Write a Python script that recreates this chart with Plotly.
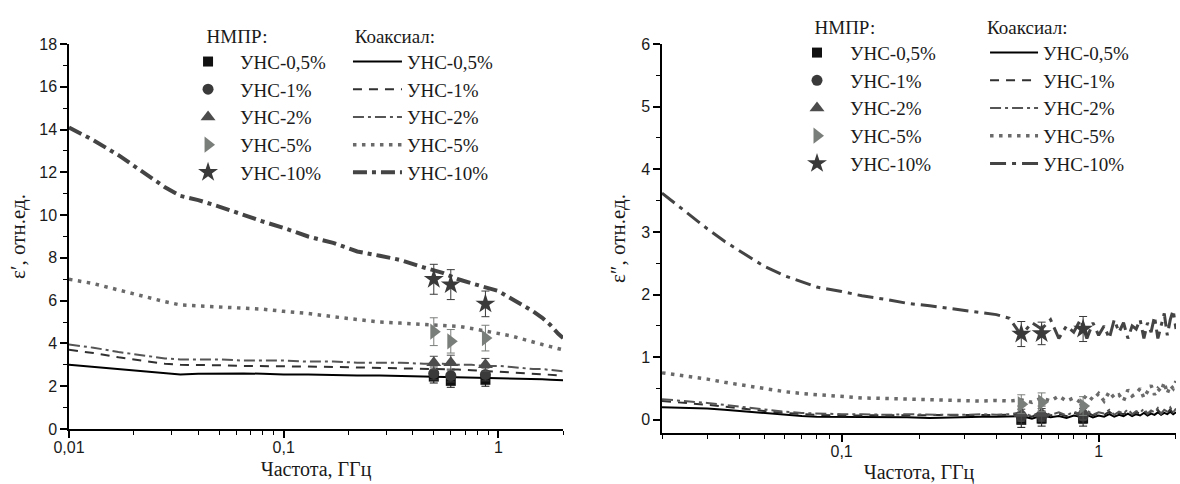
import plotly.graph_objects as go

# ---------------- data ----------------
labels = ["УНС-0,5%", "УНС-1%", "УНС-2%", "УНС-5%", "УНС-10%"]

# coaxial, eps' (left)
freq_coax1 = [0.01, 0.013, 0.017, 0.022, 0.028, 0.033, 0.04, 0.05, 0.065, 0.08, 0.1, 0.13, 0.17, 0.22,
              0.28, 0.35, 0.45, 0.55, 0.65, 0.75, 0.85, 1.0, 1.15, 1.3, 1.45, 1.6, 1.75, 1.9, 2.0]
eps1_05 = [3.0, 2.9, 2.8, 2.7, 2.6, 2.55, 2.58, 2.6, 2.6, 2.58, 2.55, 2.55, 2.52, 2.5, 2.5, 2.48, 2.45,
           2.45, 2.42, 2.4, 2.4, 2.38, 2.36, 2.35, 2.33, 2.32, 2.3, 2.3, 2.28]
eps1_1 = [3.7, 3.55, 3.35, 3.2, 3.05, 3.0, 3.0, 2.98, 2.95, 2.95, 2.95, 2.92, 2.9, 2.88, 2.85, 2.85, 2.82,
          2.8, 2.78, 2.75, 2.72, 2.7, 2.65, 2.62, 2.6, 2.58, 2.55, 2.52, 2.5]
eps1_2 = [3.95, 3.8, 3.6, 3.45, 3.3, 3.25, 3.25, 3.25, 3.2, 3.2, 3.2, 3.15, 3.15, 3.1, 3.1, 3.1, 3.05,
          3.05, 3.0, 3.0, 2.95, 2.95, 2.9, 2.85, 2.8, 2.8, 2.75, 2.7, 2.7]
eps1_5 = [7.0, 6.8, 6.5, 6.2, 5.95, 5.8, 5.75, 5.7, 5.65, 5.6, 5.5, 5.4, 5.25, 5.1, 5.0, 4.95, 4.9,
          4.85, 4.8, 4.7, 4.6, 4.5, 4.35, 4.2, 4.05, 3.95, 3.85, 3.75, 3.7]
eps1_10 = [14.1, 13.5, 12.8, 12.0, 11.3, 10.9, 10.7, 10.4, 10.0, 9.7, 9.4, 9.0, 8.7, 8.3, 8.1, 7.9, 7.55,
           7.3, 7.0, 6.8, 6.65, 6.45, 6.1, 5.8, 5.5, 5.2, 4.85, 4.45, 4.25]

# coaxial, eps'' (right)
freq_coax2 = [0.02, 0.025, 0.03, 0.035, 0.04, 0.05, 0.06, 0.07, 0.08, 0.1, 0.12, 0.15, 0.18, 0.22, 0.26,
              0.3, 0.35, 0.4, 0.45, 0.5, 0.55, 0.6, 0.65, 0.7, 0.75, 0.8, 0.85, 0.9, 0.95, 1.0, 1.05,
              1.1, 1.15, 1.2, 1.25, 1.3, 1.35, 1.4, 1.45, 1.5, 1.55, 1.6, 1.65, 1.7, 1.75, 1.8, 1.85,
              1.9, 1.95, 2.0]
eps2_05 = [0.2, 0.19, 0.18, 0.16, 0.14, 0.11, 0.08, 0.06, 0.05, 0.05, 0.05, 0.04, 0.04, 0.03, 0.04, 0.04,
           0.05, 0.05, 0.05, 0.06, 0.02, 0.07, 0.04, 0.06, 0.03, 0.07, 0.05, 0.08, 0.04, 0.07, 0.05,
           0.09, 0.05, 0.08, 0.06, 0.1, 0.06, 0.09, 0.07, 0.11, 0.07, 0.1, 0.08, 0.12, 0.08, 0.11, 0.09,
           0.13, 0.09, 0.12]
eps2_1 = [0.3, 0.27, 0.24, 0.21, 0.18, 0.14, 0.11, 0.09, 0.08, 0.07, 0.07, 0.07, 0.07, 0.07, 0.07, 0.07,
          0.07, 0.07, 0.08, 0.1, 0.05, 0.12, 0.07, 0.1, 0.06, 0.11, 0.08, 0.12, 0.07, 0.1, 0.08, 0.13,
          0.07, 0.11, 0.09, 0.14, 0.08, 0.12, 0.1, 0.15, 0.09, 0.13, 0.1, 0.16, 0.09, 0.14, 0.11, 0.17,
          0.1, 0.15]
eps2_2 = [0.33, 0.3, 0.27, 0.24, 0.21, 0.17, 0.13, 0.11, 0.1, 0.09, 0.09, 0.08, 0.09, 0.08, 0.08, 0.08,
          0.09, 0.08, 0.09, 0.12, 0.06, 0.14, 0.08, 0.12, 0.07, 0.13, 0.09, 0.15, 0.08, 0.12, 0.1, 0.16,
          0.08, 0.13, 0.1, 0.17, 0.09, 0.14, 0.11, 0.18, 0.1, 0.15, 0.12, 0.19, 0.1, 0.16, 0.13, 0.2,
          0.12, 0.18]
eps2_5 = [0.75, 0.7, 0.65, 0.6, 0.56, 0.5, 0.45, 0.42, 0.4, 0.37, 0.35, 0.34, 0.33, 0.33, 0.32, 0.3,
          0.3, 0.31, 0.3, 0.32, 0.28, 0.35, 0.3, 0.38, 0.3, 0.35, 0.28, 0.4, 0.32, 0.42, 0.3, 0.45,
          0.35, 0.4, 0.3, 0.48, 0.38, 0.42, 0.5, 0.35, 0.45, 0.55, 0.4, 0.5, 0.45, 0.6, 0.42, 0.55,
          0.5, 0.62]
eps2_10 = [3.62, 3.3, 3.05, 2.85, 2.7, 2.45, 2.3, 2.2, 2.12, 2.05, 1.98, 1.92, 1.86, 1.82, 1.78, 1.75,
           1.72, 1.68, 1.62, 1.35, 1.55, 1.45, 1.6, 1.3, 1.5, 1.4, 1.6, 1.3, 1.55, 1.35, 1.5, 1.3,
           1.6, 1.4, 1.55, 1.3, 1.5, 1.45, 1.6, 1.3, 1.55, 1.4, 1.65, 1.3, 1.5, 1.7, 1.35, 1.6, 1.75,
           1.45]

# NMPR (resonator) points
freq_nmpr = [0.5, 0.6, 0.87]
nmpr1 = [[2.45, 2.25, 2.3], [2.6, 2.5, 2.55], [3.1, 3.1, 3.0], [4.55, 4.1, 4.25], [7.0, 6.75, 5.85]]
nmpr1_err = [[0.3, 0.3, 0.3], [0.3, 0.3, 0.3], [0.3, 0.35, 0.3], [0.65, 0.55, 0.6], [0.7, 0.7, 0.6]]
nmpr2 = [[0.0, 0.02, 0.02], [0.05, 0.06, 0.06], [0.1, 0.1, 0.12], [0.25, 0.28, 0.22], [1.37, 1.38, 1.45]]
nmpr2_err = [[0.12, 0.12, 0.12], [0.12, 0.12, 0.12], [0.12, 0.12, 0.12], [0.15, 0.15, 0.15], [0.2, 0.18, 0.2]]

# ---------------- styles ----------------
marker_symbols = ["square", "circle", "triangle-up", "triangle-right", "star"]
marker_sizes = [10, 11, 13, 14, 15]
marker_colors = ["#111111", "#3a3a3a", "#4c4c4c", "#7a7e7a", "#3a3a3a"]
line_colors = ["#000000", "#303030", "#555555", "#6a6a6a", "#444444"]
line_dash_left = ["solid", "9px,7px", "11px,4px,3px,4px", "3.5px,5.5px", "14px,5px,4px,5px"]
line_dash_right = ["solid", "9px,7px", "11px,4px,3px,4px", "3.5px,5.5px", "16px,6px,4px,6px"]
line_widths_left = [2, 2, 2, 3.5, 4]
line_widths_right = [2, 2, 2, 3.5, 3]

coax1 = [eps1_05, eps1_1, eps1_2, eps1_5, eps1_10]
coax2 = [eps2_05, eps2_1, eps2_2, eps2_5, eps2_10]

fig = go.Figure()

serif = "Times New Roman, Liberation Serif, DejaVu Serif, serif"
sans = "Arial, Liberation Sans, sans-serif"
txt = "#1a1a1a"
nb = "\u00a0"

for i in range(5):
    fig.add_trace(go.Scatter(x=freq_coax1, y=coax1[i], mode="lines", name=labels[i],
                             line=dict(color=line_colors[i], width=line_widths_left[i], dash=line_dash_left[i]),
                             xaxis="x", yaxis="y", legend="legend2"))
for i in range(5):
    fig.add_trace(go.Scatter(x=freq_nmpr, y=nmpr1[i], mode="markers", name=labels[i],
                             marker=dict(symbol=marker_symbols[i], size=marker_sizes[i], color=marker_colors[i]),
                             error_y=dict(type="data", array=nmpr1_err[i], color=marker_colors[i], thickness=1, width=4),
                             xaxis="x", yaxis="y", legend="legend"))
for i in range(5):
    fig.add_trace(go.Scatter(x=freq_coax2, y=coax2[i], mode="lines", name=labels[i],
                             line=dict(color=line_colors[i], width=line_widths_right[i], dash=line_dash_right[i]),
                             xaxis="x2", yaxis="y2", legend="legend4"))
for i in range(5):
    fig.add_trace(go.Scatter(x=freq_nmpr, y=nmpr2[i], mode="markers", name=labels[i],
                             marker=dict(symbol=marker_symbols[i], size=marker_sizes[i], color=marker_colors[i]),
                             error_y=dict(type="data", array=nmpr2_err[i], color=marker_colors[i], thickness=1, width=4),
                             xaxis="x2", yaxis="y2", legend="legend3"))

minor_log = [v * m for v in (0.01, 0.1, 1) for m in range(2, 10) if v * m <= 2.0001]

xcommon = dict(type="log", showline=True, linecolor="black", linewidth=1.5, ticks="outside",
               ticklen=7, tickwidth=1.5, tickcolor="black", showgrid=False, zeroline=False,
               automargin=False, ticklabelstandoff=-4,
               tickvals=[0.01, 0.1, 1], ticktext=["0,01", "0,1", "1"],
               minor=dict(tickvals=minor_log, ticks="outside", ticklen=4, tickwidth=1.2, tickcolor="black",
                          showgrid=False),
               tickfont=dict(family=sans, size=16, color=txt),
               title=dict(text="Частота, ГГц", font=dict(family=serif, size=20, color=txt), standoff=7))
ycommon = dict(showline=True, linecolor="black", linewidth=1.5, ticks="outside", ticklen=7, tickwidth=1.5,
               tickcolor="black", showgrid=False, zeroline=False, automargin=False,
               tickfont=dict(family=sans, size=16, color=txt))

fig.update_layout(
    width=1180, height=484,
    margin=dict(l=69, r=4, t=44, b=51, autoexpand=False),
    plot_bgcolor="white", paper_bgcolor="white",
    separators=", ",
    xaxis=dict(domain=[0, 0.4463], range=[-2, 0.30103], anchor="y", **xcommon),
    xaxis2=dict(domain=[0.5357, 1], range=[-1.69897, 0.30103], anchor="y2", **xcommon),
    yaxis=dict(domain=[0.0103, 1], range=[0, 18], dtick=2, anchor="x",
               minor=dict(dtick=1, ticks="outside", ticklen=4, tickwidth=1.2, tickcolor="black", showgrid=False),
               title=dict(text="ε′, отн.ед.", font=dict(family=serif, size=21, color=txt), standoff=8),
               **ycommon),
    yaxis2=dict(domain=[0, 1], range=[-0.21, 6], dtick=1, anchor="x2",
                minor=dict(dtick=0.5, ticks="outside", ticklen=4, tickwidth=1.2, tickcolor="black", showgrid=False),
                title=dict(text="ε″, отн.ед.", font=dict(family=serif, size=21, color=txt), standoff=10),
                **ycommon),
    showlegend=True,
)

def leg(x, y, title, size, itemwidth):
    return dict(x=x, y=y, xanchor="left", yanchor="top",
                bgcolor="rgba(0,0,0,0)",
                font=dict(family=serif, size=size, color=txt), itemwidth=itemwidth,
                title=dict(text=title, font=dict(family=serif, size=size, color=txt)),
                itemclick=False, itemdoubleclick=False)

fig.update_layout(
    legend=leg(0.0967, 1.0669, nb * 6 + "НМПР:", 19, 54),
    legend2=leg(0.2520, 1.0669, nb + "Коаксиал:", 19, 49),
    legend3=leg(0.6459, 1.0899, nb * 6 + "НМПР:", 19, 56),
    legend4=leg(0.8275, 1.0899, "Коаксиал:", 19, 48),
)

fig.write_html("out.html", config={"displayModeBar": False},
               post_script="document.body.style.margin='0';document.body.style.padding='0';")
